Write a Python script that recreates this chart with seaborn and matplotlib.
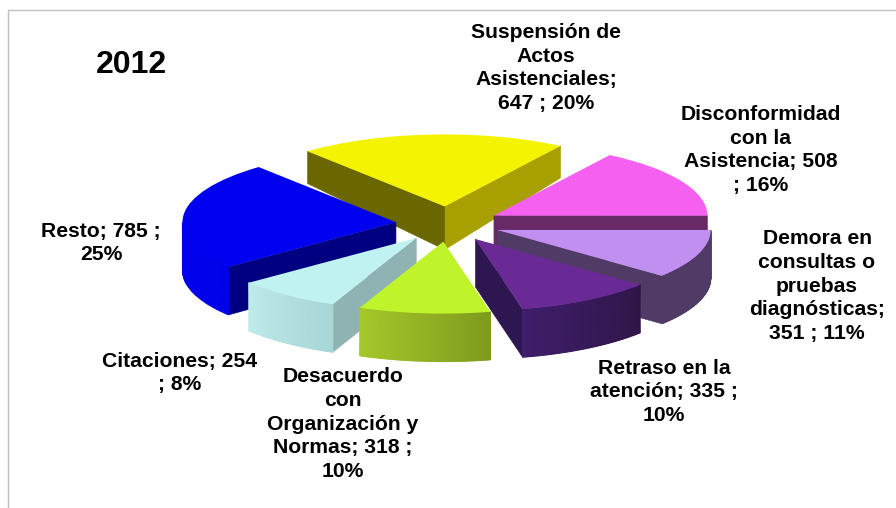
import matplotlib
matplotlib.use("Agg")
import matplotlib.pyplot as plt
from matplotlib.lines import Line2D
import numpy as np
import seaborn as sns

# datos del grafico
categorias = ["Suspensión de Actos Asistenciales", "Disconformidad con la Asistencia",
              "Demora en consultas o pruebas diagnósticas", "Retraso en la atención",
              "Desacuerdo con Organización y Normas", "Citaciones", "Resto"]
valores = [647, 508, 351, 335, 318, 254, 785]

etiquetas = ["Suspensión de\nActos\nAsistenciales;\n647 ; 20%",
             "Disconformidad\ncon la\nAsistencia; 508\n; 16%",
             "Demora en\nconsultas o\npruebas\ndiagnósticas;\n351 ; 11%",
             "Retraso en la\natención; 335 ;\n10%",
             "Desacuerdo\ncon\nOrganización y\nNormas; 318 ;\n10%",
             "Citaciones; 254\n; 8%",
             "Resto; 785 ;\n25%"]
etiqueta_x = [546, 761, 817, 664, 343, 180, 101]
etiqueta_y = [68, 150, 286, 392, 424, 373, 243]

# colores: cara superior, corte theta1, corte theta2, borde izq/der
color_top = ["#f4f400", "#f660f0", "#c08ff0", "#6a2a96", "#c0f42a", "#c0f2f2", "#0000f0"]
color_cut1 = ["#a8a000", "#672a66", "#503a66", "#2e1650", "#7f9a1e", "#8fb3b3", "#0000e0"]
color_cut2 = ["#6a6600", "#672a66", "#503a66", "#2e1650", "#a5c92a", "#8fb3b3", "#000080"]
color_rim1 = ["#a8a000", "#672a66", "#503a66", "#3f1e6b", "#a5c92a", "#bfeaea", "#0000f0"]
color_rim2 = ["#a8a000", "#672a66", "#503a66", "#2f1647", "#7f9a1e", "#a8d5d5", "#0000e8"]
orden = [0, 1, 6, 2, 5, 3, 4]  # de atras hacia delante

W, H = 896, 508
CX, CY = 448, 224
RX, RY = 213.5, 72


def fondo(y):
    # la profundidad crece hacia delante (perspectiva)
    py = CY - RY * y
    return y - np.clip(32 + (py - 150) * 0.2, 32, 48) / RY


sns.set_theme(style="white")
plt.rcParams["font.family"] = ["Liberation Sans", "DejaVu Sans"]

fig = plt.figure(figsize=(W / 100, H / 100), dpi=100, facecolor="white")
ax = fig.add_axes([0, 0, 1, 1])
wedges, _ = ax.pie(valores, explode=[0.245] * len(valores), startangle=130, counterclock=False,
                   colors=color_top, wedgeprops={"linewidth": 0})
ax.set_aspect("auto")
ax.axis("off")

for z, i in enumerate(orden):
    w = wedges[i]
    base = 10 * (z + 1)
    x0, y0 = w.center
    w.set_zorder(base + 2)
    # caras de corte visibles
    for ang, normal, col in [(w.theta1, w.theta1 - 90, color_cut1[i]), (w.theta2, w.theta2 + 90, color_cut2[i])]:
        if np.sin(np.radians(normal)) < 0:
            xe = x0 + w.r * np.cos(np.radians(ang))
            ye = y0 + w.r * np.sin(np.radians(ang))
            ax.fill([x0, xe, xe, x0], [y0, ye, fondo(ye), fondo(y0)], color=col, lw=0.4, zorder=base)
    # borde exterior, solo la parte que mira al frente
    ang = np.linspace(w.theta1, w.theta2, 80)
    ang = ang[np.sin(np.radians(ang)) <= 0]
    if len(ang) > 1:
        xr = x0 + w.r * np.cos(np.radians(ang))
        yr = y0 + w.r * np.sin(np.radians(ang))
        pal = np.array(sns.blend_palette([color_rim1[i], color_rim2[i]], len(ang)))[:, :3]
        if xr[0] > xr[-1]:
            pal = pal[::-1]
        ax.pcolormesh(np.array([xr, xr]), np.array([yr, fondo(yr)]), np.array([pal, pal]),
                      shading="gouraud", zorder=base + 1)

ax.set_xlim(-CX / RX, (W - CX) / RX)
ax.set_ylim((CY - H) / RY, CY / RY)

for txt, px, py in zip(etiquetas, etiqueta_x, etiqueta_y):
    fig.text(px / W, 1 - py / H, txt, ha="center", va="center", fontsize=15.2,
             fontweight="bold", color="black", linespacing=1.32)
fig.text(131.5 / W, 1 - 65 / H, "2012", ha="center", va="center", fontsize=23,
         fontweight="bold", color="black")

# marco gris arriba e izquierda
fig.add_artist(Line2D([7.5 / W, 1], [1 - 10 / H, 1 - 10 / H], color="#c0c0c0", lw=1))
fig.add_artist(Line2D([7.5 / W, 7.5 / W], [1 - 10 / H, 0], color="#c0c0c0", lw=1))

fig.savefig("out.png", dpi=100)
